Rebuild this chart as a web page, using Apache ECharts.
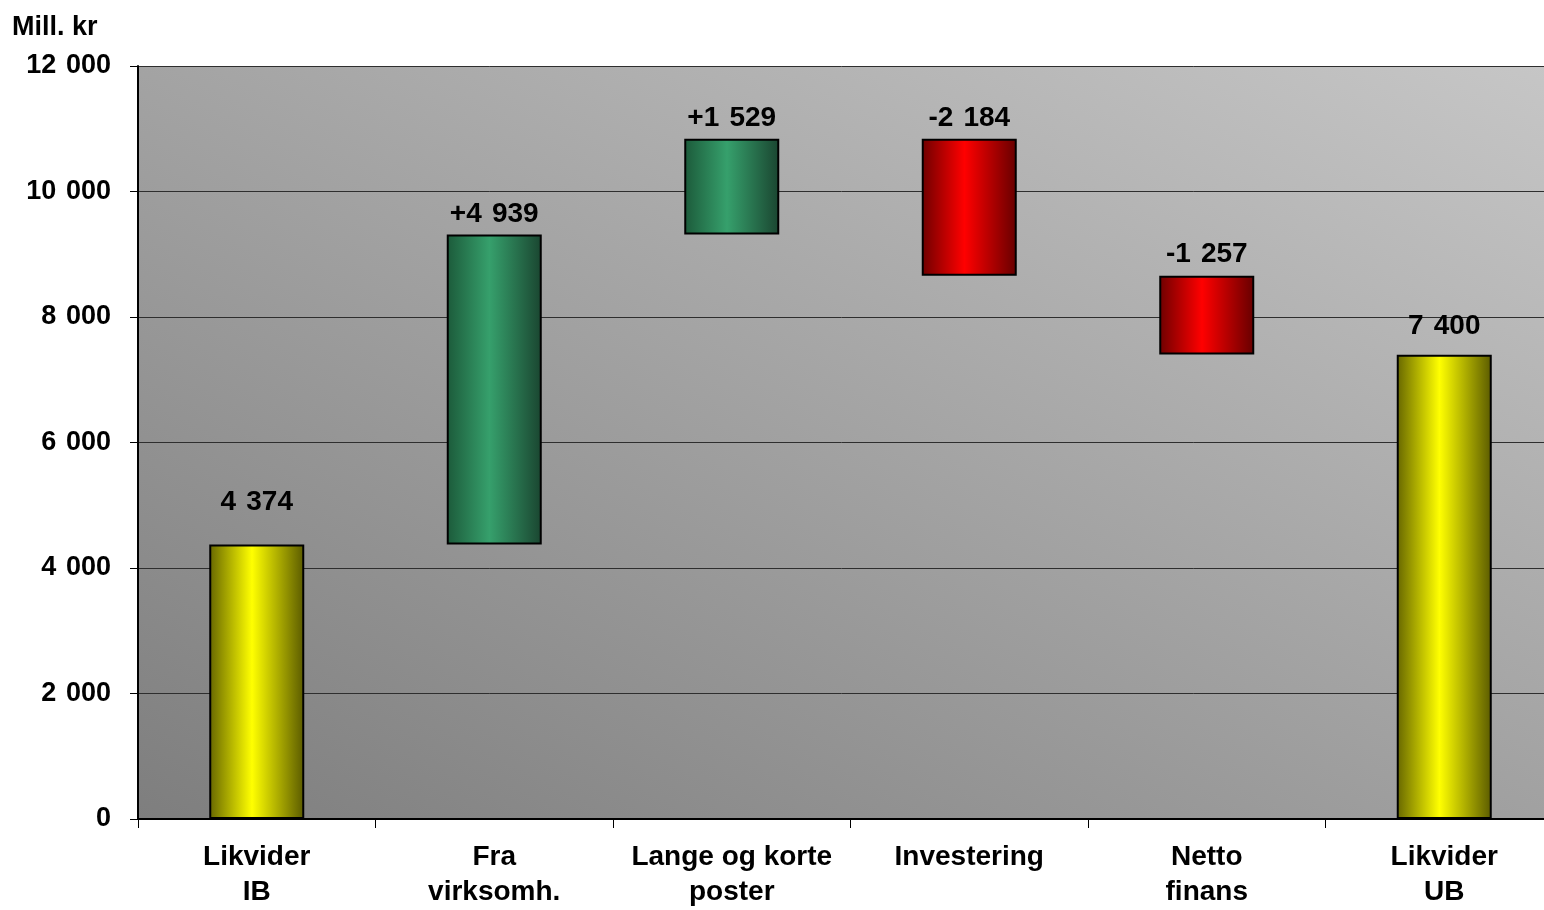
<!DOCTYPE html>
<html>
<head>
<meta charset="utf-8">
<script src="https://cdn.jsdelivr.net/npm/echarts@6/dist/echarts.min.js"></script>
<style>
html,body{margin:0;padding:0;background:#fff;}
#chart{width:1544px;height:910px;}
</style>
</head>
<body>
<div id="chart"></div>
<script>
var categories = ['Likvider\nIB', 'Fra\nvirksomh.', 'Lange og korte\nposter', 'Investering', 'Netto\nfinans', 'Likvider\nUB'];
var steps = [4374, 4939, 1529, -2184, -1257, 7400];
var isTotal = [true, false, false, false, false, true];
var yTicks = [0, 2000, 4000, 6000, 8000, 10000, 12000];
var unitLabel = 'Mill. kr';

function fmt(v) {
  return String(Math.abs(v)).replace(/\B(?=(\d{3})+(?!\d))/g, ' \u200A');
}
function grad(dark1, light, dark2) {
  return new echarts.graphic.LinearGradient(0, 0, 1, 0, [
    {offset: 0, color: dark1},
    {offset: 0.45, color: light},
    {offset: 1, color: dark2}
  ]);
}
var yellow = grad('#666600', '#ffff00', '#5a5a00');
var green = grad('#1c5a3a', '#36a06c', '#1a4530');
var red = grad('#6e0000', '#ff0000', '#660000');

var FONT = '"Liberation Sans", Arial, sans-serif';
var baseData = [], valData = [];
var running = 0;
var labelDist = [28, 6, 6, 6, 7, 14];
for (var i = 0; i < steps.length; i++) {
  var v = steps[i];
  var base, h, color, text;
  if (isTotal[i]) {
    base = 0; h = v; running = v; color = yellow; text = fmt(v);
  } else if (v >= 0) {
    base = running; h = v; running += v; color = green; text = '+' + fmt(v);
  } else {
    running += v; base = running; h = -v; color = red; text = '-' + fmt(v);
  }
  baseData.push(base);
  valData.push({
    value: h,
    itemStyle: {color: color},
    label: {formatter: text, distance: labelDist[i]}
  });
}

var chart = echarts.init(document.getElementById('chart'), null, {renderer: 'canvas'});
chart.setOption({
  animation: false,
  backgroundColor: '#ffffff',
  graphic: [{
    type: 'text', left: 12, top: 14,
    style: {text: unitLabel, font: 'bold 27px ' + FONT, fill: '#000'}
  }],
  grid: {
    left: 138, right: -19, top: 66, bottom: 91,
    outerBoundsMode: 'none',
    containLabel: false,
    show: true, borderWidth: 0,
    backgroundColor: new echarts.graphic.LinearGradient(138, 819, 721, -347, [
      {offset: 0, color: '#7e7e7e'},
      {offset: 1, color: '#c6c6c6'}
    ], true)
  },
  xAxis: {
    type: 'category',
    data: categories,
    axisLine: {show: true, lineStyle: {color: '#000', width: 2}},
    axisTick: {show: true, length: 9, lineStyle: {color: '#000', width: 1}},
    axisLabel: {
      color: '#000', fontFamily: FONT, fontWeight: 'bold', fontSize: 28,
      lineHeight: 35, margin: 21, interval: 0
    }
  },
  yAxis: {
    type: 'value',
    min: yTicks[0], max: yTicks[yTicks.length - 1], interval: yTicks[1] - yTicks[0],
    axisLine: {show: true, lineStyle: {color: '#000', width: 2}},
    axisTick: {show: true, length: 8, lineStyle: {color: '#000', width: 1}},
    splitLine: {show: true, lineStyle: {color: '#2e2e2e', width: 1}},
    axisLabel: {
      color: '#000', fontFamily: FONT, fontWeight: 'bold', fontSize: 27, margin: 27,
      formatter: function (v) { return fmt(v); }
    }
  },
  series: [
    {
      type: 'bar', stack: 'w', data: baseData, barWidth: 95,
      itemStyle: {color: 'transparent', borderWidth: 0},
      silent: true
    },
    {
      type: 'bar', stack: 'w', data: valData, barWidth: 95,
      itemStyle: {borderColor: '#000', borderWidth: 2},
      label: {
        show: true, position: 'top', color: '#000',
        fontFamily: FONT, fontWeight: 'bold', fontSize: 28
      }
    }
  ]
});
</script>
</body>
</html>
